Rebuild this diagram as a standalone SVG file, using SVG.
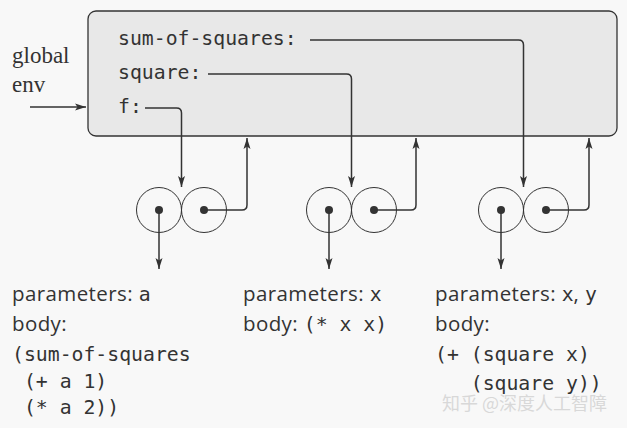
<svg xmlns="http://www.w3.org/2000/svg" width="627" height="428" viewBox="0 0 627 428">
<defs>
<style>
.mono{font-family:"DejaVu Sans Mono","Liberation Mono",monospace;font-size:19.8px;fill:#333}
.sans{font-family:"Open Sans","Noto Sans",sans-serif;font-size:20.5px;letter-spacing:0.4px;fill:#333}
.sans .mono{letter-spacing:0}
.serif{font-family:"Liberation Serif",serif;font-size:23px;fill:#333}
.conn{fill:none;stroke:#333;stroke-width:1.5}
.cell{fill:none;stroke:#333;stroke-width:1}
.dot{fill:#333}
.wm{font-family:"Noto Sans CJK SC","Noto Sans",sans-serif;font-size:18px;fill:#d8d8d8}
</style>
<marker id="ah" markerUnits="userSpaceOnUse" markerWidth="12" markerHeight="8" refX="11" refY="4" orient="auto">
<path d="M0,0.5 L11,4 L0,7.5 L2.5,4 Z" fill="#333"/>
</marker>
</defs>
<rect width="627" height="428" fill="#f8f8f8"/>
<g id="global-env">
<rect x="88" y="11" width="529" height="125" rx="8" fill="#e8e8e8" stroke="#333" stroke-width="1.3"/>
<text class="mono" x="118" y="45">sum-of-squares:</text>
<text class="mono" x="118" y="79">square:</text>
<text class="mono" x="118" y="113">f:</text>
</g>
<g id="global-label">
<text class="serif" x="12" y="63">global</text>
<text class="serif" x="12" y="92">env</text>
</g>
<g id="proc-f">
<circle class="cell" cx="159" cy="210" r="22.5"/>
<circle class="cell" cx="204" cy="210" r="22.5"/>
<circle class="dot" cx="159" cy="210" r="4"/>
<circle class="dot" cx="204" cy="210" r="4"/>
<text class="sans" x="12" y="301">parameters: <tspan class="mono">a</tspan></text>
<text class="sans" x="12" y="331">body:</text>
<text class="mono" x="12" y="361">(sum-of-squares</text>
<text class="mono" x="12" y="388" xml:space="preserve"> (+ a 1)</text>
<text class="mono" x="12" y="414" xml:space="preserve"> (* a 2))</text>
</g>
<g id="proc-square">
<circle class="cell" cx="329" cy="210" r="22.5"/>
<circle class="cell" cx="374" cy="210" r="22.5"/>
<circle class="dot" cx="329" cy="210" r="4"/>
<circle class="dot" cx="374" cy="210" r="4"/>
<text class="sans" x="243" y="301">parameters: <tspan class="mono">x</tspan></text>
<text class="sans" x="243" y="331">body: <tspan class="mono">(* x x)</tspan></text>
</g>
<g id="proc-sum-of-squares">
<circle class="cell" cx="501" cy="210" r="22.5"/>
<circle class="cell" cx="546" cy="210" r="22.5"/>
<circle class="dot" cx="501" cy="210" r="4"/>
<circle class="dot" cx="546" cy="210" r="4"/>
<text class="sans" x="435" y="301">parameters: <tspan class="mono">x</tspan>, <tspan class="mono">y</tspan></text>
<text class="sans" x="435" y="331">body:</text>
<text class="mono" x="435" y="361">(+ (square x)</text>
<text class="mono" x="435" y="390" xml:space="preserve">   (square y))</text>
</g>
<g id="connectors">
<path class="conn" d="M30,107 H86" marker-end="url(#ah)"/>
<path class="conn" d="M145,108 H176.5 Q181.5,108 181.5,113 V187" marker-end="url(#ah)"/>
<path class="conn" d="M208,74 H346.5 Q351.5,74 351.5,79 V187" marker-end="url(#ah)"/>
<path class="conn" d="M310,40 H518.5 Q523.5,40 523.5,45 V187" marker-end="url(#ah)"/>
<path class="conn" d="M204,210 H242 Q247,210 247,205 V138" marker-end="url(#ah)"/>
<path class="conn" d="M374,210 H411 Q416,210 416,205 V138" marker-end="url(#ah)"/>
<path class="conn" d="M546,210 H584 Q589,210 589,205 V138" marker-end="url(#ah)"/>
<path class="conn" d="M159,210 V269" marker-end="url(#ah)"/>
<path class="conn" d="M329,210 V269" marker-end="url(#ah)"/>
<path class="conn" d="M501,210 V269" marker-end="url(#ah)"/>
</g>
<text class="wm" x="442" y="410">知乎 @深度人工智障</text>
</svg>
